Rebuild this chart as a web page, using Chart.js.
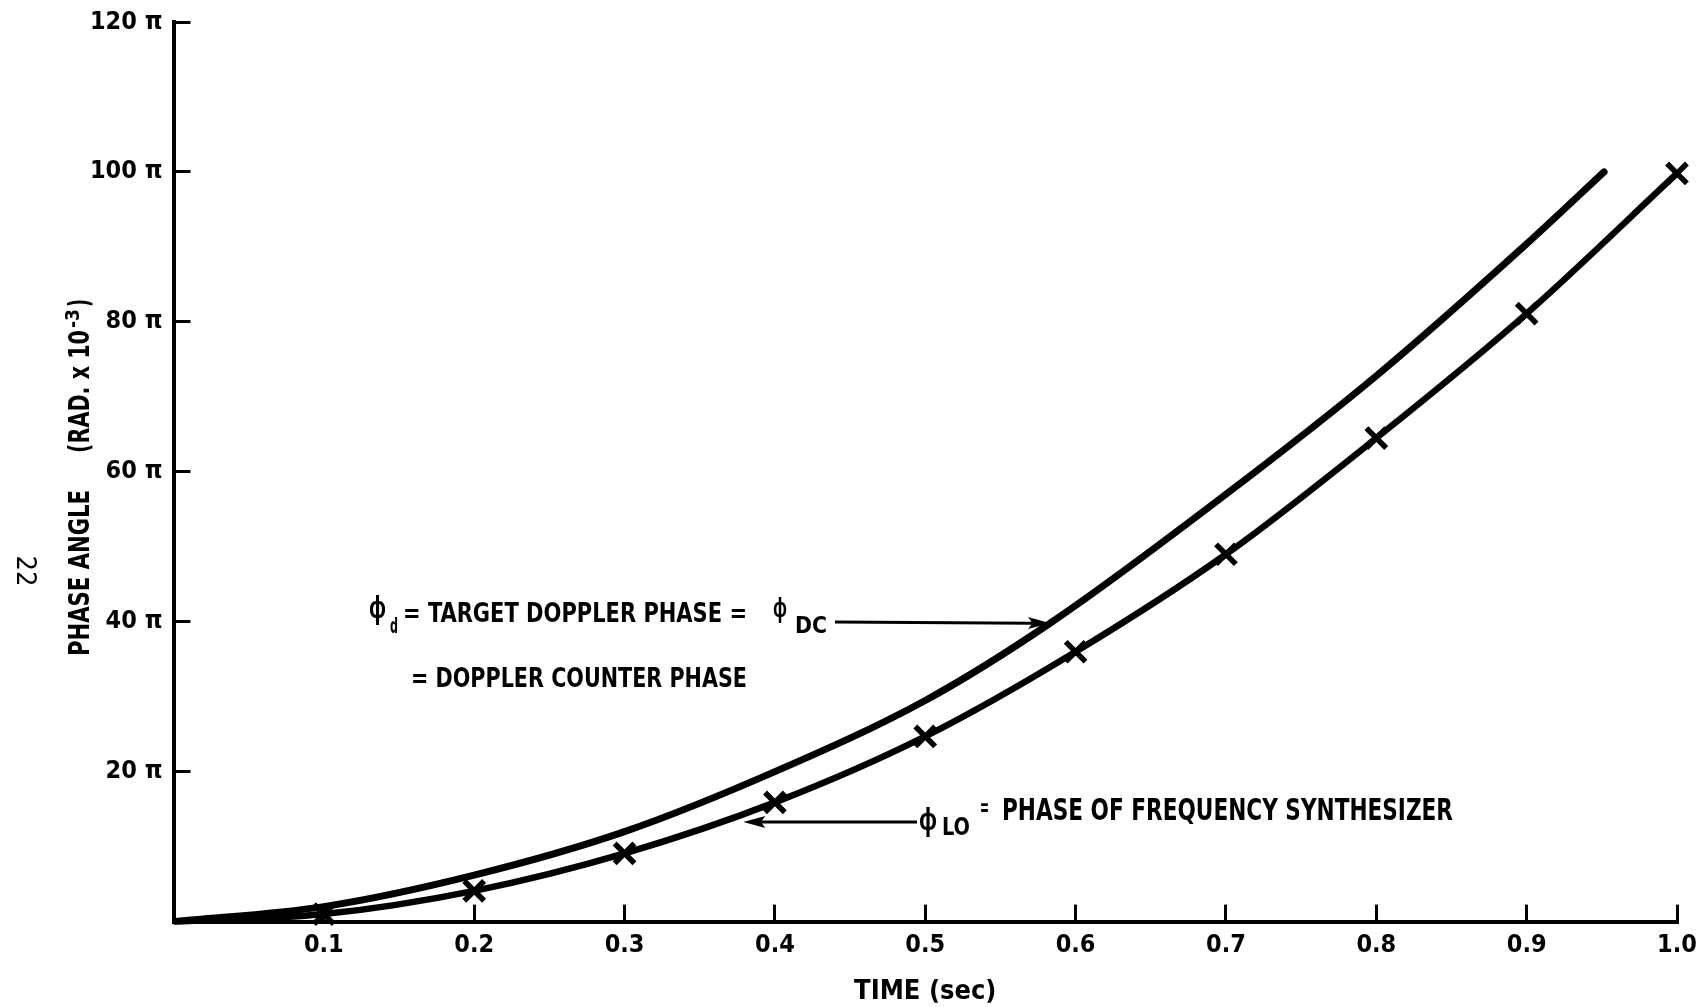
<!DOCTYPE html>
<html>
<head>
<meta charset="utf-8">
<script src="https://cdn.jsdelivr.net/npm/chart.js@4.4.0/dist/chart.umd.min.js"></script>
<style>
  html,body{margin:0;padding:0;background:#fff;}
  #wrap{width:1700px;height:1007px;}
</style>
</head>
<body>
<div id="wrap"><canvas id="chart" width="1700" height="1007"></canvas></div>
<script>
/* ---------- DATA (phase in units of pi, x 10^-3 rad) ---------- */
const lowerTime  = [0, 0.1, 0.2, 0.3, 0.4, 0.5, 0.6, 0.7, 0.8, 0.9, 1.0];
const lowerPhase = [0, 1.0, 4.1, 9.1, 15.9, 24.7, 36.0, 49.0, 64.5, 81.1, 99.8];   // phi_LO, marked with X
const upperTime  = [0, 0.1, 0.2, 0.3, 0.4, 0.5, 0.583, 0.7, 0.8, 0.9, 0.9515];
const upperPhase = [0, 2.0, 6.2, 12.0, 20.0, 29.5, 39.8, 57.0, 72.8, 90.4, 100]; // phi_d
const xTickLabels = ['', '0.1', '0.2', '0.3', '0.4', '0.5', '0.6', '0.7', '0.8', '0.9', '1.0'];
const yTickLabels = ['', '20 π', '40 π', '60 π', '80 π', '100 π', '120 π'];

/* ---------- HELPERS ---------- */
const FONT = "'Liberation Sans Narrow','DejaVu Sans Condensed','Arial Narrow',sans-serif";
const GREEK = "'Liberation Sans','DejaVu Sans',sans-serif";
const pts = (xs, ys) => xs.map((x, i) => ({x, y: ys[i]}));

// draw text left-aligned on a baseline, squeezed/stretched to a given width
function fitText(ctx, s, x, yBase, size, w, weight = 'bold', family = FONT){
  ctx.save();
  ctx.font = `${weight} ${size}px ${family}`;
  ctx.textAlign = 'left'; ctx.textBaseline = 'alphabetic';
  const m = ctx.measureText(s).width;
  ctx.translate(x, yBase); ctx.scale(w ? w / m : 1, 1);
  ctx.fillText(s, 0, 0);
  ctx.restore();
}
const phi = (ctx, x, yBase, size, w) => fitText(ctx, 'ϕ', x, yBase, size, w, 'bold', GREEK);

function arrow(ctx, x1, y1, x2, y2){
  const a = Math.atan2(y2 - y1, x2 - x1), L = 22, H = 6;
  ctx.save();
  ctx.strokeStyle = '#000'; ctx.fillStyle = '#000'; ctx.lineWidth = 3;
  ctx.beginPath(); ctx.moveTo(x1, y1);
  ctx.lineTo(x2 - Math.cos(a) * L * 0.8, y2 - Math.sin(a) * L * 0.8); ctx.stroke();
  ctx.translate(x2, y2); ctx.rotate(a);
  ctx.beginPath(); ctx.moveTo(0, 0); ctx.lineTo(-L, -H); ctx.lineTo(-L * 0.8, 0); ctx.lineTo(-L, H);
  ctx.closePath(); ctx.fill();
  ctx.restore();
}

const noScalePad = s => { s.paddingTop = s.paddingBottom = s.paddingLeft = s.paddingRight = 0; };

/* ---------- ANNOTATIONS ---------- */
const annotations = {
  id: 'annotations',
  beforeDraw(chart){
    const {ctx, width, height} = chart;
    ctx.save(); ctx.fillStyle = '#fff'; ctx.fillRect(0, 0, width, height); ctx.restore();
  },
  afterDatasetsDraw(chart){
    const {ctx, scales: {x, y}} = chart;
    ctx.save();
    ctx.fillStyle = '#000';

    // y axis title, rotated
    ctx.save();
    ctx.translate(89, 656); ctx.rotate(-Math.PI / 2);
    fitText(ctx, 'PHASE ANGLE', 0, 0, 28, 166);
    fitText(ctx, '(RAD. x 10', 203, 0, 28, 123);
    fitText(ctx, '-3', 328, -10, 19, 19);
    fitText(ctx, ')', 349, 0, 28, 8);
    ctx.restore();

    // phi_d = TARGET DOPPLER PHASE = phi_DC  --->
    phi(ctx, 369, 618, 32, 17);
    fitText(ctx, 'd', 390, 633, 22, 8);
    fitText(ctx, '= TARGET DOPPLER PHASE =', 403, 622, 26, 344);
    phi(ctx, 773, 617, 27, 14);
    fitText(ctx, 'DC', 795, 633, 23, 32);
    arrow(ctx, 835, 622, x.getPixelForValue(0.583), y.getPixelForValue(39.8));
    fitText(ctx, '= DOPPLER COUNTER PHASE', 411, 687, 26, 336);

    // <--- phi_LO = PHASE OF FREQUENCY SYNTHESIZER
    const tipY = y.getPixelForValue(13.3);
    arrow(ctx, 917, tipY, x.getPixelForValue(0.379), tipY);
    phi(ctx, 919, 830, 32, 18);
    fitText(ctx, 'LO', 942, 835, 24, 28);
    fitText(ctx, '=', 980, 816, 24, 9);
    fitText(ctx, 'PHASE OF FREQUENCY SYNTHESIZER', 1002, 820, 31, 451);

    // page number, rotated
    ctx.translate(24, 571); ctx.rotate(Math.PI / 2);
    ctx.font = `normal 27px ${FONT}`;
    ctx.textAlign = 'center'; ctx.textBaseline = 'middle';
    ctx.fillText('22', 0, 0);
    ctx.restore();
  }
};

/* ---------- CHART ---------- */
const axisGrid = {display: true, drawOnChartArea: false, drawTicks: true, tickLength: -17, lineWidth: 3, color: '#000'};
const axisBorder = {display: true, width: 4, color: '#000'};

new Chart(document.getElementById('chart').getContext('2d'), {
  type: 'line',
  data: {
    datasets: [
      {label: 'phi_d', data: pts(upperTime, upperPhase), borderColor: '#000', borderWidth: 7,
       borderCapStyle: 'round', pointRadius: 0, cubicInterpolationMode: 'monotone', fill: false},
      {label: 'phi_LO', data: pts(lowerTime, lowerPhase), borderColor: '#000', borderWidth: 6.5,
       cubicInterpolationMode: 'monotone', fill: false, clip: false,
       pointStyle: 'crossRot', pointRadius: c => c.dataIndex === 0 ? 0 : 14,
       pointBorderWidth: 5.5, pointBorderColor: '#000'}
    ]
  },
  plugins: [annotations],
  options: {
    responsive: false, animation: false, events: [],
    layout: {padding: {top: 22, right: 23, left: 0, bottom: 0}},
    plugins: {legend: {display: false}, tooltip: {enabled: false}},
    scales: {
      x: {
        type: 'linear', min: 0, max: 1,
        afterFit: s => { s.height = 85.4; noScalePad(s); },
        grid: axisGrid, border: axisBorder,
        ticks: {stepSize: 0.1, padding: 26, color: '#000', maxRotation: 0, autoSkip: false,
                font: {family: FONT, size: 25, weight: 'bold'},
                callback: (v, i) => xTickLabels[i]},
        title: {display: true, text: 'TIME (sec)', color: '#000',
                font: {family: FONT, size: 27, weight: 'bold', lineHeight: 1.0}, padding: {top: 0, bottom: 2}}
      },
      y: {
        min: 0, max: 120,
        afterFit: s => { s.width = 173.5; noScalePad(s); },
        grid: axisGrid, border: axisBorder,
        ticks: {stepSize: 20, padding: 28, color: '#000', autoSkip: false,
                font: {family: FONT, size: 25, weight: 'bold'},
                callback: (v, i) => yTickLabels[i]}
      }
    }
  }
});
</script>
</body>
</html>
